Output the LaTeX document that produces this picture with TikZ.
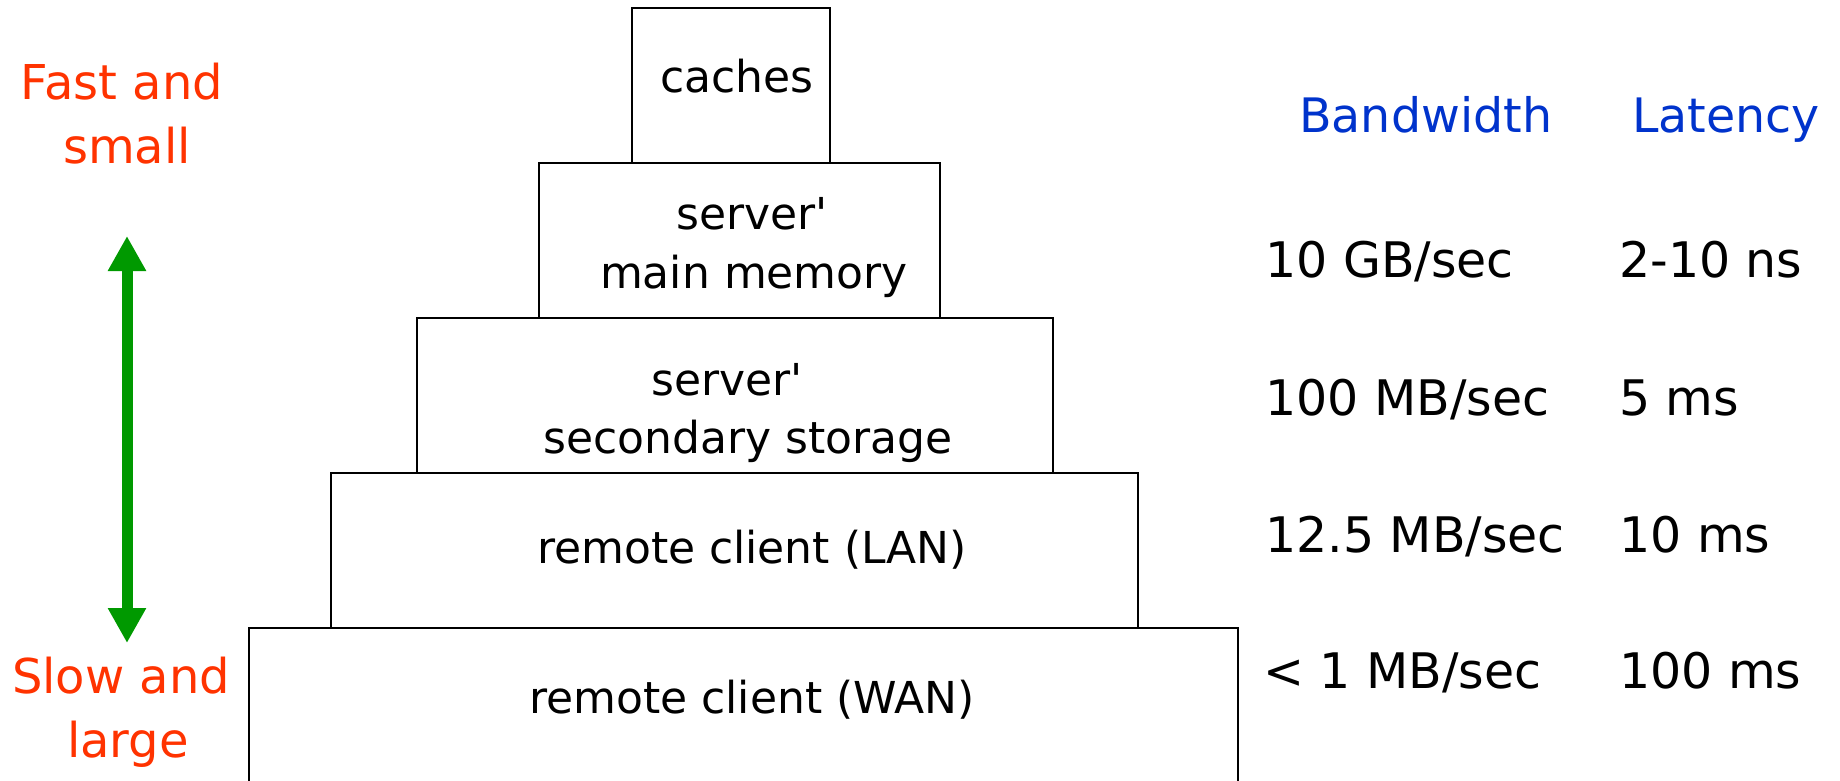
\documentclass[tikz,border=0pt]{standalone}
\usepackage{fontspec}
\setmainfont{DejaVu Sans}[Ligatures=TeXOff]
\usetikzlibrary{arrows.meta}
\definecolor{slowred}{HTML}{FF3300}
\definecolor{headblue}{HTML}{0033CC}
\definecolor{arrowgreen}{HTML}{009900}
\tikzset{
  level/.style={draw=black, line width=2pt, rectangle, inner sep=0pt, fill=none},
  boxtext/.style={inner sep=0pt, anchor=base, font=\fontsize{44}{59}\selectfont},
  redtext/.style={inner sep=0pt, anchor=base, text=slowred, font=\fontsize{48}{64}\selectfont},
  headtext/.style={inner sep=0pt, anchor=base west, text=headblue, font=\fontsize{47.5}{60}\selectfont},
  valtext/.style={inner sep=0pt, anchor=base west, font=\fontsize{49}{60}\selectfont},
}
\begin{document}
\begin{tikzpicture}[x=1pt,y=-1pt]
\clip (0,0) rectangle (1840,781);
\fill[white] (0,0) rectangle (1840,781);
% pyramid levels
\node[level, minimum width=198pt, minimum height=155pt] (caches) at (731,85.5) {};
\node[level, minimum width=401pt, minimum height=155pt] (mem) at (739.5,240.5) {};
\node[level, minimum width=636pt, minimum height=155pt] (sec) at (735,395.5) {};
\node[level, minimum width=807pt, minimum height=155pt] (lan) at (734.5,550.5) {};
\node[level, minimum width=989pt, minimum height=170pt] (wan) at (743.5,713) {};
% level labels
\node[boxtext] (tcaches) at (737,93) {caches};
\node[boxtext] (tmem1) at (752,229) {server'};
\node[boxtext] (tmem2) at (754,288) {main memory};
\node[boxtext] (tsec1) at (727,395) {server'};
\node[boxtext] (tsec2) at (748,453) {secondary storage};
\node[boxtext] (tlan) at (752,563) {remote client (LAN)};
\node[boxtext] (twan) at (752,713) {remote client (WAN)};
% left labels
\node[redtext] (fast1) at (122,100) {Fast and};
\node[redtext] (fast2) at (127,164) {small};
\node[redtext] (slow1) at (121,693) {Slow and};
\node[redtext] (slow2) at (128,757) {large};
\coordinate (atop) at (127,236);
\coordinate (abot) at (127,643);
\draw[arrowgreen, line width=11pt, {Triangle[width=36pt,length=35pt]}-{Triangle[width=36pt,length=35pt]}] (atop) -- (abot);
% right columns
\node[headtext] (hbw) at (1299,133) {Bandwidth};
\node[headtext] (hlat) at (1632,133) {Latency};
\node[valtext] (bw1) at (1265,277) {10 GB/sec};
\node[valtext] (lat1) at (1619,277) {2-10 ns};
\node[valtext] (bw2) at (1265,415) {100 MB/sec};
\node[valtext] (lat2) at (1619,415) {5 ms};
\node[valtext] (bw3) at (1265,552) {12.5 MB/sec};
\node[valtext] (lat3) at (1619,552) {10 ms};
\node[valtext] (bw4) at (1263,688) {< 1 MB/sec};
\node[valtext] (lat4) at (1619,688) {100 ms};
\end{tikzpicture}
\end{document}
